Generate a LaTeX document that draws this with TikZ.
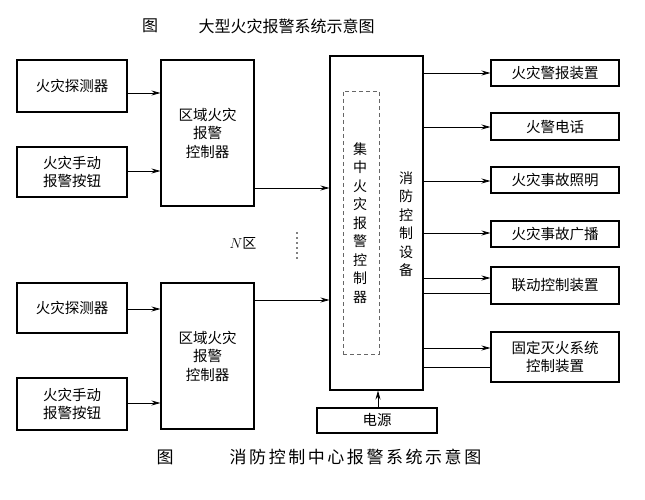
\documentclass[tikz,border=0pt]{standalone}
\usepackage{fontspec}
\setmainfont{Noto Sans CJK SC}
\usetikzlibrary{arrows.meta}

\tikzset{
  box/.style={draw, line width=1.1pt, inner sep=0pt, align=center,
    font=\fontsize{14.5}{18.5}\selectfont},
  dashbox/.style={draw, black!60, dash pattern=on 4pt off 3pt, line width=0.8pt, inner sep=0pt},
  arr/.style={line width=0.8pt, -{Stealth[length=9pt,width=5pt]}},
  link/.style={line width=0.8pt},
  vtext/.style={align=center, inner sep=0pt, font=\fontsize{14}{18.5}\selectfont},
}

\begin{document}
\begin{tikzpicture}[x=1pt,y=-1pt]
\useasboundingbox (0,0) rectangle (645,500);

% Titles
\node[font=\fontsize{16}{18}\selectfont] (fig1) at (150,26) {图};
\node[font=\fontsize{16}{18}\selectfont] (title1) at (286.5,26) {大型火灾报警系统示意图};
\node[font=\fontsize{17}{19}\selectfont] (fig2) at (165,457) {图};
\node[font=\fontsize{17}{19}\selectfont\addfontfeatures{LetterSpace=15}] (title2) at (355.5,457) {消防控制中心报警系统示意图};

% Zone 1
\node[box, minimum width=110, minimum height=52] (det1) at (72,86) {火灾探测器};
\node[box, minimum width=110, minimum height=50] (btn1) at (72,172) {火灾手动\\报警按钮};
\node[box, minimum width=93, minimum height=146] (ctrl1) at (207.5,133) {区域火灾\\报警\\控制器};

% Zone N
\node[box, minimum width=110, minimum height=50] (det2) at (72,308) {火灾探测器};
\node[box, minimum width=110, minimum height=52] (btn2) at (72,404) {火灾手动\\报警按钮};
\node[box, minimum width=93, minimum height=146] (ctrl2) at (207.5,356) {区域火灾\\报警\\控制器};

\node[font=\fontsize{14}{16}\selectfont, inner sep=0pt] (nzone) at (243,243) {$N$区};
\foreach \k in {0,...,5}
  \fill (297,233+5*\k) circle (0.8);

% Control centre
\node[box, minimum width=93, minimum height=334] (main) at (376.5,223) {};
\node[dashbox, minimum width=36, minimum height=263] (central) at (361,222.5) {};
\node[vtext] (centraltxt) at (360,223) {集\\中\\火\\灾\\报\\警\\控\\制\\器};
\node[vtext] (maintxt) at (406,224) {消\\防\\控\\制\\设\\备};
\node[box, minimum width=120, minimum height=25] (power) at (377,420.5) {电源};

% Outputs
\node[box, minimum width=128, minimum height=26] (out1) at (555,73) {火灾警报装置};
\node[box, minimum width=128, minimum height=27] (out2) at (555,126.5) {火警电话};
\node[box, minimum width=128, minimum height=26] (out3) at (555,180) {火灾事故照明};
\node[box, minimum width=128, minimum height=26] (out4) at (555,234) {火灾事故广播};
\node[box, minimum width=128, minimum height=37] (out5) at (555,285.5) {联动控制装置};
\node[box, minimum width=128, minimum height=50] (out6) at (555,357) {固定灭火系统\\控制装置};

% Straight Lines
\draw[arr] (det1.east |- 0,93) -- (ctrl1.west |- 0,93);
\draw[arr] (btn1.east |- 0,171) -- (ctrl1.west |- 0,171);
\draw[arr] (det2.east |- 0,309) -- (ctrl2.west |- 0,309);
\draw[arr] (btn2.east |- 0,403) -- (ctrl2.west |- 0,403);
\draw[arr] (ctrl1.east |- 0,188) -- (main.west |- 0,188);
\draw[arr] (ctrl2.east |- 0,300) -- (main.west |- 0,300);
\draw[arr] (power.north -| 378,0) -- (main.south -| 378,0);

\draw[arr] (main.east |- 0,73) -- (out1.west |- 0,73);
\draw[arr] (main.east |- 0,127) -- (out2.west |- 0,127);
\draw[arr] (main.east |- 0,181) -- (out3.west |- 0,181);
\draw[arr] (main.east |- 0,233) -- (out4.west |- 0,233);
\draw[arr] (main.east |- 0,278) -- (out5.west |- 0,278);
\draw[link] (main.east |- 0,293) -- (out5.west |- 0,293);
\draw[arr] (main.east |- 0,348) -- (out6.west |- 0,348);
\draw[link] (main.east |- 0,367) -- (out6.west |- 0,367);
\end{tikzpicture}
\end{document}
